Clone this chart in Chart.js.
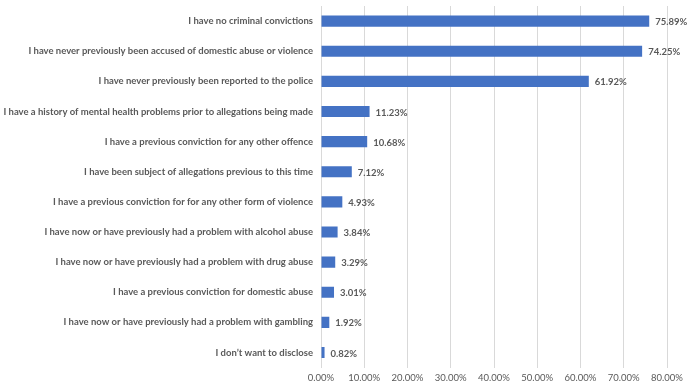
<!DOCTYPE html>
<html lang="en">

<head>
  <meta charset="UTF-8" />
  <title>Background statements</title>
  <script src="https://cdn.jsdelivr.net/npm/chart.js"></script>
  <style>
    html, body { margin: 0; padding: 0; background: #fff; }
    #wrap { width: 690px; height: 389px; }
  </style>
</head>

<body>
  <div id="wrap"><canvas id="bgChart"></canvas></div>

  <script>
    const statements = [
      'I have no criminal convictions',
      'I have never previously been accused of domestic abuse or violence',
      'I have never previously been reported to the police',
      'I have a history of mental health problems prior to allegations being made',
      'I have a previous conviction for any other offence',
      'I have been subject of allegations previous to this time',
      'I have a previous conviction for for any other form of violence',
      'I have now or have previously had a problem with alcohol abuse',
      'I have now or have previously had a problem with drug abuse',
      'I have a previous conviction for domestic abuse',
      'I have now or have previously had a problem with gambling',
      'I don\u2019t want to disclose'
    ];
    const percents = [75.89, 74.25, 61.92, 11.23, 10.68, 7.12, 4.93, 3.84, 3.29, 3.01, 1.92, 0.82];
    const xTicks = [0, 10, 20, 30, 40, 50, 60, 70, 80];

    const fontFamily = 'Lato, "Liberation Sans", sans-serif';

    // draw the value next to each bar
    const valueLabels = {
      id: 'valueLabels',
      afterDatasetsDraw(chart) {
        const ctx = chart.ctx;
        const meta = chart.getDatasetMeta(0);
        ctx.save();
        ctx.font = 'bold 9.5px ' + fontFamily;
        ctx.fillStyle = '#595959';
        ctx.textBaseline = 'middle';
        ctx.textAlign = 'left';
        meta.data.forEach((bar, i) => {
          ctx.fillText(percents[i].toFixed(2) + '%', bar.x + 6, bar.y + 1);
        });
        ctx.restore();
      }
    };

    new Chart(document.getElementById('bgChart'), {
      type: 'bar',
      data: {
        labels: statements,
        datasets: [{
          data: percents,
          backgroundColor: '#4472C4',
          categoryPercentage: 1,
          barPercentage: 0.37
        }]
      },
      options: {
        indexAxis: 'y',
        responsive: true,
        maintainAspectRatio: false,
        animation: false,
        layout: { padding: { top: 6, right: 23, bottom: 0, left: 0 } },
        plugins: {
          legend: { display: false },
          tooltip: { enabled: false }
        },
        scales: {
          x: {
            min: 0,
            max: 80,
            afterBuildTicks(axis) { axis.ticks = xTicks.map(v => ({ value: v })); },
            grid: { color: '#d9d9d9', drawTicks: false },
            border: { display: false },
            ticks: {
              padding: 5,
              color: '#595959',
              font: { family: fontFamily, size: 9.5 },
              callback: v => v.toFixed(2) + '%'
            }
          },
          y: {
            afterFit(axis) {
              axis.width = 321;
              axis.paddingTop = 0;
              axis.paddingBottom = 0;
            },
            grid: { display: false, drawTicks: false },
            border: { display: true, color: '#d9d9d9' },
            ticks: {
              padding: 8,
              color: '#595959',
              font: { family: fontFamily, size: 9.5, weight: 'bold' }
            }
          }
        }
      },
      plugins: [valueLabels]
    });
  </script>
</body>

</html>
